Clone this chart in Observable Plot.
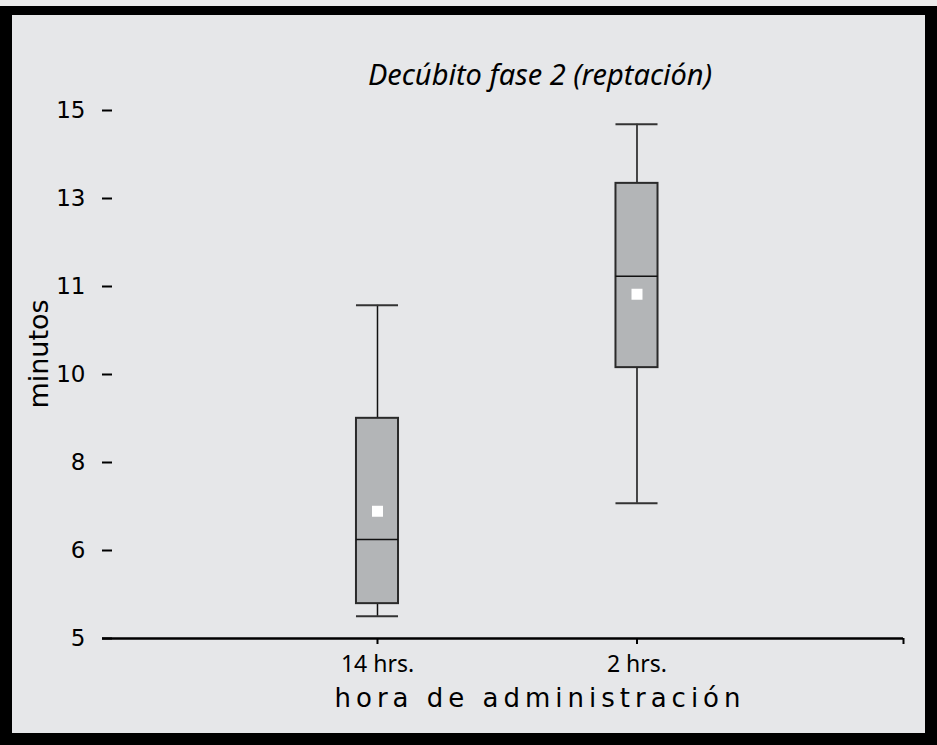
<!DOCTYPE html>
<html>
<head>
<meta charset="utf-8">
<script src="https://cdn.jsdelivr.net/npm/d3@7"></script>
<script src="https://cdn.jsdelivr.net/npm/@observablehq/plot@0.6"></script>
<style>
  html, body { margin: 0; padding: 0; background: #ebebeb; }
  #wrap { position: relative; width: 937px; height: 745px; overflow: hidden; }
  #frame { position: absolute; left: 0; top: 6px; width: 937px; height: 739px; box-sizing: border-box;
           border: 12px solid #000; border-top-width: 9px; background: #e6e7e9; }
  #chart { position: absolute; left: 0; top: 0; }
  #chart svg { background: transparent; }
  .title { position: absolute; top: 54px; left: 540px; transform: translateX(-50%); white-space: nowrap;
           font-family: "Noto Sans", sans-serif; font-style: italic; font-size: 29px; line-height: normal; color: #000; }
  .xlabel { position: absolute; top: 683px; left: 540px; transform: translateX(-50%); white-space: nowrap;
           font-family: "DejaVu Sans", sans-serif; font-size: 26px; letter-spacing: 5px; line-height: normal; color: #000; }
  .ylabel { position: absolute; top: 354px; left: 38px; transform: translate(-50%, -50%) rotate(-90deg); white-space: nowrap;
           font-family: "DejaVu Sans", sans-serif; font-size: 27px; line-height: normal; color: #000; }
</style>
</head>
<body>
<div id="wrap">
  <div id="frame"></div>
  <div id="chart"></div>
  <div class="title">Decúbito fase 2 (reptación)</div>
  <div class="ylabel">minutos</div>
  <div class="xlabel">hora de administración</div>
</div>
<script>
// ---- data (values in the chart's y-scale units) ----
const categories   = ["14 hrs.", "2 hrs."];
const whiskerLow   = [5.42, 7.56];
const quartile1    = [5.66, 10.13];
const medians      = [6.875, 11.86];
const quartile3    = [9.17, 13.62];
const whiskerHigh  = [11.31, 14.74];
const means        = [7.41, 11.52];
const yTicks       = [5, 6.6667, 8.3333, 10, 11.6667, 13.3333, 15];
const yTickLabels  = ["5", "6", "8", "10", "11", "13", "15"];

const rows = categories.map((c, i) => ({
  cat: c, pos: i + 1,
  lo: whiskerLow[i], q1: quartile1[i], med: medians[i], q3: quartile3[i], hi: whiskerHigh[i], mean: means[i]
}));

const xDomain = [-0.0597, 3.027];
const hw = 0.081; // half box width in x units

const plot = Plot.plot({
  width: 937,
  height: 745,
  marginLeft: 102,
  marginRight: 34,
  marginTop: 110,
  marginBottom: 107,
  style: { background: "transparent", overflow: "visible" },
  x: { type: "linear", domain: xDomain },
  y: { domain: [5, 15] },
  marks: [
    Plot.ruleX(rows, { x: "pos", y1: "lo", y2: "q1", stroke: "#111", strokeWidth: 1.5 }),
    Plot.ruleX(rows, { x: "pos", y1: "q3", y2: "hi", stroke: "#111", strokeWidth: 1.5 }),
    Plot.ruleY(rows, { y: "lo", x1: d => d.pos - hw, x2: d => d.pos + hw, stroke: "#333", strokeWidth: 2 }),
    Plot.ruleY(rows, { y: "hi", x1: d => d.pos - hw, x2: d => d.pos + hw, stroke: "#333", strokeWidth: 2 }),
    Plot.rect(rows, { x1: d => d.pos - hw, x2: d => d.pos + hw, y1: "q1", y2: "q3", fill: "#b3b5b7", stroke: "#2a2a2a", strokeWidth: 2 }),
    Plot.ruleY(rows, { y: "med", x1: d => d.pos - hw, x2: d => d.pos + hw, stroke: "#111", strokeWidth: 1.5 }),
    Plot.dot(rows, { x: "pos", y: "mean", symbol: "square", fill: "#fff", r: 6.2 }),
    Plot.ruleY([5], { stroke: "#000", strokeWidth: 2.5 }),
    Plot.axisX({
      ticks: [1, 2, xDomain[1]],
      tickFormat: d => (Number.isInteger(d) ? categories[d - 1] : ""),
      tickSize: 6, tickPadding: 11, strokeWidth: 2, label: null, fill: "#000", stroke: "#000",
      fontSize: 23, fontFamily: "Noto Sans"
    }),
    Plot.axisY({
      ticks: yTicks,
      tickFormat: d => yTickLabels[yTicks.indexOf(d)],
      tickSize: 10, tickPadding: 17, dx: 10, strokeWidth: 2, label: null, fill: "#000", stroke: "#000",
      fontSize: 23, fontFamily: "DejaVu Sans"
    })
  ]
});
const svg = d3.select(plot);
svg.selectAll('g[aria-label="y-axis tick label"], g[aria-label="y-axis tick label"] text')
  .style("font-size", "23px").style("font-family", "'DejaVu Sans', sans-serif").attr("font-size", "23");
svg.selectAll('g[aria-label="x-axis tick label"], g[aria-label="x-axis tick label"] text')
  .style("font-size", "23px").style("font-family", "'Noto Sans', sans-serif").attr("font-size", "23");
document.getElementById("chart").appendChild(plot);
</script>
</body>
</html>
